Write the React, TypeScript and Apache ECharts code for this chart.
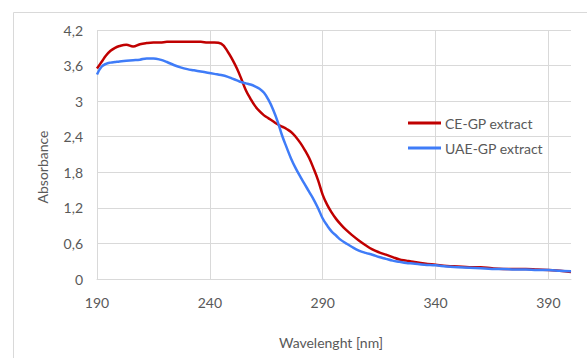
import React, { useEffect, useRef } from "react";
import * as echarts from "echarts";

const wavelengths = [
  190, 192, 194, 196, 198, 200, 203, 206, 209, 212, 215, 218, 221, 224, 227, 230, 233, 236, 239, 242,
  245, 248, 250, 252, 254, 256, 258, 260, 262, 264, 266, 268, 270, 272, 274, 276, 278, 280, 282, 284,
  286, 288, 290, 292, 294, 296, 298, 300, 303, 306, 309, 312, 315, 318, 321, 324, 327, 330, 335, 340,
  345, 350, 355, 360, 365, 370, 375, 380, 385, 390, 395, 400,
];

const ceGp = [
  3.55, 3.66, 3.77, 3.85, 3.90, 3.93, 3.95, 3.92, 3.96, 3.98, 3.99, 3.99, 4.0, 4.0, 4.0, 4.0, 4.0, 4.0, 3.99, 3.99,
  3.97, 3.83, 3.70, 3.55, 3.37, 3.18, 3.04, 2.92, 2.83, 2.76, 2.71, 2.66, 2.61, 2.57, 2.53, 2.48, 2.40, 2.30, 2.18, 2.04,
  1.86, 1.66, 1.42, 1.25, 1.12, 1.01, 0.92, 0.84, 0.74, 0.65, 0.57, 0.50, 0.45, 0.41, 0.37, 0.33, 0.31, 0.29, 0.26, 0.24,
  0.22, 0.21, 0.20, 0.20, 0.18, 0.17, 0.17, 0.17, 0.16, 0.15, 0.14, 0.12,
];

const uaeGp = [
  3.45, 3.58, 3.63, 3.65, 3.66, 3.67, 3.68, 3.69, 3.70, 3.72, 3.72, 3.70, 3.66, 3.61, 3.57, 3.54, 3.52, 3.50, 3.48, 3.46,
  3.44, 3.41, 3.38, 3.35, 3.32, 3.30, 3.28, 3.25, 3.21, 3.14, 3.02, 2.86, 2.66, 2.42, 2.22, 2.03, 1.87, 1.73, 1.60, 1.47,
  1.34, 1.19, 1.02, 0.90, 0.80, 0.73, 0.66, 0.61, 0.54, 0.48, 0.44, 0.41, 0.37, 0.34, 0.31, 0.29, 0.27, 0.26, 0.24, 0.23,
  0.21, 0.20, 0.19, 0.18, 0.17, 0.17, 0.16, 0.16, 0.15, 0.15, 0.14, 0.13,
];

const seriesNames = ["CE-GP extract", "UAE-GP extract"];
const xStart = 190;
const xEnd = 400;
const xStep = 50;
const yTicksMax = 4.2;
const yStep = 0.6;

const FONT = "Lato, 'Liberation Sans', sans-serif";
const TEXT = "#595959";
const GRID = "#D9D9D9";

export default function App() {
  const ref = useRef<HTMLDivElement>(null);

  useEffect(() => {
    if (!ref.current) return;
    const chart = echarts.init(ref.current, undefined, { renderer: "svg" });
    const toData = (vals: number[]) => wavelengths.map((w, i) => [w - xStart, vals[i]]);
    chart.setOption({
      animation: false,
      backgroundColor: "#ffffff",
      textStyle: { fontFamily: FONT },
      grid: { left: 97, top: 30, right: 16, bottom: 79, containLabel: false },
      graphic: [
        {
          type: "rect",
          shape: { x: 13.5, y: 12.5, width: 700, height: 500 },
          style: { fill: "none", stroke: GRID, lineWidth: 1 },
          silent: true,
        },
        {
          type: "text",
          x: 42,
          y: 167,
          rotation: Math.PI / 2,
          style: {
            text: "Absorbance",
            fill: TEXT,
            font: `14px ${FONT}`,
            align: "center",
            verticalAlign: "middle",
          },
        },
        {
          type: "text",
          x: 331,
          y: 342,
          style: {
            text: "Wavelenght [nm]",
            fill: TEXT,
            font: `14px ${FONT}`,
            align: "center",
            verticalAlign: "middle",
          },
        },
      ],
      legend: {
        orient: "vertical",
        left: 408,
        top: 116,
        padding: 0,
        itemWidth: 33,
        itemHeight: 3,
        itemGap: 11,
        icon: "rect",
        textStyle: { color: TEXT, fontSize: 14, fontFamily: FONT, padding: [0, 0, 0, -1] },
        data: seriesNames,
      },
      xAxis: {
        type: "value",
        min: 0,
        max: xEnd - xStart,
        interval: xStep,
        axisLine: { show: true, lineStyle: { color: GRID, width: 1 } },
        axisTick: { show: false },
        splitLine: { show: true, showMaxLine: false, lineStyle: { color: GRID, width: 1 } },
        axisLabel: {
          color: TEXT,
          fontSize: 14,
          fontFamily: FONT,
          margin: 16,
          showMaxLabel: false,
          formatter: (v: number) => String(Math.round(v + xStart)),
        },
      },
      yAxis: {
        type: "value",
        min: 0,
        max: yTicksMax,
        interval: yStep,
        axisLine: { show: false },
        axisTick: { show: false },
        splitLine: { show: true, lineStyle: { color: GRID, width: 1 } },
        axisLabel: {
          color: TEXT,
          fontSize: 14,
          fontFamily: FONT,
          margin: 14,
          formatter: (v: number) => {
            const r = Math.round(v * 10) / 10;
            return Number.isInteger(r) ? String(r) : r.toFixed(1).replace(".", ",");
          },
        },
      },
      series: [
        {
          name: seriesNames[0],
          type: "line",
          data: toData(ceGp),
          showSymbol: false,
          smooth: 0.4,
          lineStyle: { color: "#C00000", width: 2.5 },
          itemStyle: { color: "#C00000" },
          z: 2,
        },
        {
          name: seriesNames[1],
          type: "line",
          data: toData(uaeGp),
          showSymbol: false,
          smooth: 0.4,
          lineStyle: { color: "#3F7CF8", width: 2.5 },
          itemStyle: { color: "#3F7CF8" },
          z: 3,
        },
      ],
    });
    return () => chart.dispose();
  }, []);

  return <div ref={ref} style={{ width: 587, height: 358, position: "absolute", left: 0, top: 0 }} />;
}
